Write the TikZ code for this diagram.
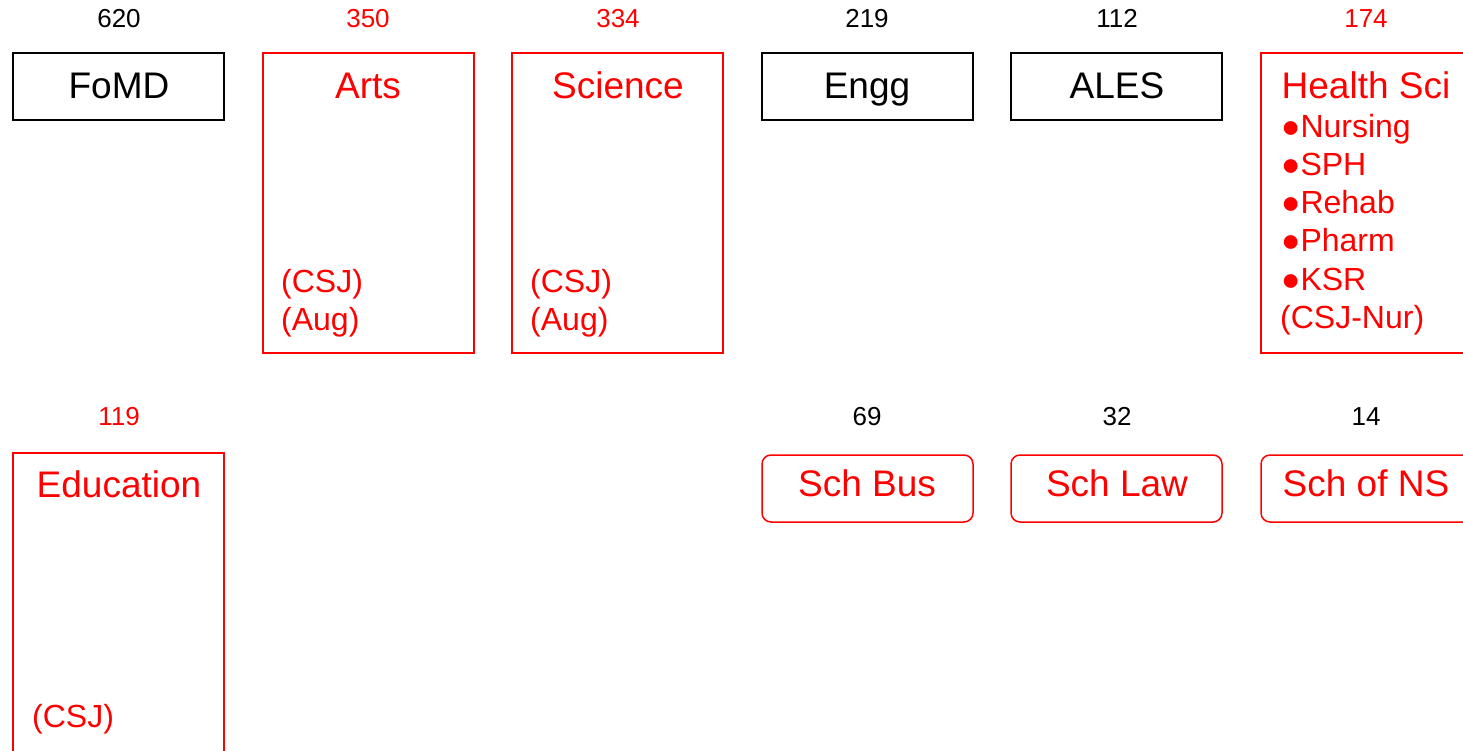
\documentclass[tikz,border=0pt]{standalone}
\usepackage{fontspec}
\setmainfont{Liberation Sans}
\begin{document}
\begin{tikzpicture}[x=1pt,y=-1pt,
  num/.style={font=\fontsize{26}{28}\selectfont, inner sep=0pt, anchor=base},
  ttl/.style={font=\fontsize{37}{38}\selectfont, inner sep=0pt, anchor=base},
  sub/.style={font=\fontsize{32}{38}\selectfont, inner sep=0pt, anchor=base west},
  bx/.style={draw, line width=1.5pt, inner sep=0pt, outer sep=0pt, anchor=north west, minimum width=211pt},
  rbx/.style={bx, rounded corners=9pt}]
\useasboundingbox (0,0) rectangle (1463,750);
\clip (0,0) rectangle (1463,750);
% row 1 boxes
\node[bx, minimum height=67pt] (fomd) at (13,53) {};
\node[bx, red, minimum height=300pt] (arts) at (263,53) {};
\node[bx, red, minimum height=300pt] (sci) at (512,53) {};
\node[bx, minimum height=67pt] (engg) at (762,53) {};
\node[bx, minimum height=67pt] (ales) at (1011,53) {};
\node[bx, red, minimum height=300pt] (hs) at (1261,53) {};
% row 1 numbers
\node[num] (n1) at (119,27) {620};
\node[num, red] (n2) at (368,27) {350};
\node[num, red] (n3) at (618,27) {334};
\node[num] (n4) at (867,27) {219};
\node[num] (n5) at (1117,27) {112};
\node[num, red] (n6) at (1366,27) {174};
% row 1 titles
\node[ttl] (t1) at (119,98) {FoMD};
\node[ttl, red] (t2) at (368,98) {Arts};
\node[ttl, red] (t3) at (618,98) {Science};
\node[ttl] (t4) at (867,98) {Engg};
\node[ttl] (t5) at (1117,98) {ALES};
\node[ttl, red] (t6) at (1366,98) {Health Sci};
% subtexts
\node[sub, red] (a1) at (281,292) {(CSJ)};
\node[sub, red] (a2) at (281,330) {(Aug)};
\node[sub, red] (s1) at (530,292) {(CSJ)};
\node[sub, red] (s2) at (530,330) {(Aug)};
\node[sub, red] (h1) at (1281,137) {●Nursing};
\node[sub, red] (h2) at (1281,175) {●SPH};
\node[sub, red] (h3) at (1281,213) {●Rehab};
\node[sub, red] (h4) at (1281,251) {●Pharm};
\node[sub, red] (h5) at (1281,290) {●KSR};
\node[sub, red] (h6) at (1280,328) {(CSJ-Nur)};
% row 2
\node[bx, red, minimum height=320pt] (edu) at (13,453) {};
\node[rbx, red, minimum height=67pt] (bus) at (762,455) {};
\node[rbx, red, minimum height=67pt] (law) at (1011,455) {};
\node[rbx, red, minimum height=67pt] (ns) at (1261,455) {};
\node[num, red] (m1) at (119,425) {119};
\node[num] (m2) at (867,425) {69};
\node[num] (m3) at (1117,425) {32};
\node[num] (m4) at (1366,425) {14};
\node[ttl, red] (e1) at (119,497) {Education};
\node[ttl, red] (b1) at (867,496) {Sch Bus};
\node[ttl, red] (l1) at (1117,496) {Sch Law};
\node[ttl, red] (ns1) at (1366,496) {Sch of NS};
\node[sub, red] (e2) at (32,727) {(CSJ)};
\end{tikzpicture}
\end{document}
